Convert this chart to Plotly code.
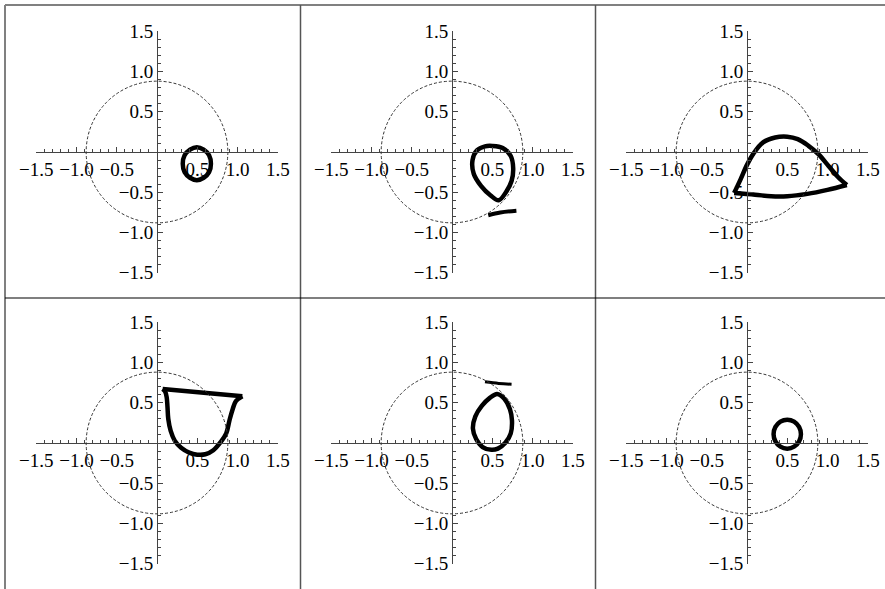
import numpy as np
import plotly.graph_objects as go

W, H = 885, 589

# Tick marks and their labels (shared by every panel)
tick_vals = [-1.5, -1.0, -0.5, 0.5, 1.0, 1.5]
tick_text = ["\u22121.5", "\u22121.0", "\u22120.5", "0.5", "1.0", "1.5"]
ref_radius = 0.88

# Panel 1: small closed loop below the axis
p1_x = [0.67, 0.647, 0.58, 0.495, 0.41, 0.343, 0.32, 0.343, 0.41, 0.495, 0.58, 0.647, 0.67]
p1_y = [-0.145, -0.04, 0.03, 0.06, 0.03, -0.04, -0.145, -0.25, -0.32, -0.35, -0.32, -0.25, -0.145]

# Panel 2: egg-shaped loop plus a detached stroke
p2_x = [0.50, 0.63, 0.73, 0.76, 0.74, 0.67, 0.58, 0.48, 0.36, 0.27, 0.255, 0.31, 0.41, 0.50]
p2_y = [0.075, 0.05, -0.05, -0.20, -0.36, -0.50, -0.60, -0.54, -0.42, -0.27, -0.10, 0.02, 0.07, 0.075]
p2_sx = [0.45, 0.60, 0.80]
p2_sy = [-0.785, -0.752, -0.730]

# Panel 3: arched upper branch and a nearly flat lower branch
p3_top_x = [-0.16, -0.08, 0.00, 0.08, 0.20, 0.35, 0.50, 0.63, 0.76, 0.89, 1.01, 1.13, 1.24]
p3_top_y = [-0.51, -0.34, -0.16, -0.02, 0.12, 0.18, 0.19, 0.16, 0.08, -0.03, -0.17, -0.31, -0.41]
p3_bot_x = [1.24, 1.00, 0.75, 0.50, 0.30, 0.10, -0.16]
p3_bot_y = [-0.41, -0.47, -0.52, -0.55, -0.55, -0.53, -0.51]

# Panel 4: cup shape with a straight top edge
p4_top_x = [0.07, 1.06]
p4_top_y = [0.67, 0.58]
p4_cup_x = [1.06, 0.98, 0.94, 0.90, 0.86, 0.79, 0.70, 0.60, 0.50, 0.40, 0.30, 0.22, 0.17, 0.14, 0.13, 0.12, 0.10, 0.07]
p4_cup_y = [0.58, 0.52, 0.42, 0.28, 0.12, 0.01, -0.09, -0.14, -0.145, -0.12, -0.06, 0.03, 0.15, 0.30, 0.45, 0.57, 0.64, 0.67]

# Panel 5: egg-shaped loop above the axis plus a detached stroke
p5_x = [0.56, 0.65, 0.72, 0.745, 0.73, 0.66, 0.57, 0.49, 0.38, 0.30, 0.26, 0.29, 0.37, 0.47, 0.56]
p5_y = [0.61, 0.55, 0.42, 0.28, 0.12, 0.00, -0.07, -0.085, -0.05, 0.05, 0.18, 0.33, 0.46, 0.56, 0.61]
p5_sx = [0.41, 0.58, 0.74]
p5_sy = [0.760, 0.740, 0.730]

# Panel 6: small closed loop above the axis
p6_x = [0.67, 0.647, 0.585, 0.50, 0.415, 0.353, 0.33, 0.353, 0.415, 0.50, 0.585, 0.647, 0.67]
p6_y = [0.11, 0.20, 0.266, 0.29, 0.266, 0.20, 0.11, 0.02, -0.046, -0.07, -0.046, 0.02, 0.11]

# (x, y, line width) for each curve in each panel
panels = [
    [(p1_x, p1_y, 4.5)],
    [(p2_x, p2_y, 4.5), (p2_sx, p2_sy, 4)],
    [(p3_top_x, p3_top_y, 4.5), (p3_bot_x, p3_bot_y, 4.5)],
    [(p4_top_x, p4_top_y, 4.5), (p4_cup_x, p4_cup_y, 4.5)],
    [(p5_x, p5_y, 4.5), (p5_sx, p5_sy, 3)],
    [(p6_x, p6_y, 4.5)],
]

# Pixel position of each panel's origin and pixels per unit
col_origin = [157, 452, 747]
row_origin = [152, 443]
ppu = 80.5
half = 1.5 * ppu

minor_vals = [round(v, 1) for v in np.arange(-1.5, 1.51, 0.1)
              if abs(round(v, 1) * 2 - round(round(v, 1) * 2)) > 1e-9]

fig = go.Figure()
layout = dict(width=W, height=H, margin=dict(l=0, r=0, t=0, b=0, autoexpand=False),
              paper_bgcolor="white", plot_bgcolor="rgba(0,0,0,0)",
              showlegend=False, shapes=[])

axis_font = dict(family="Liberation Serif, Times New Roman, serif", size=19, color="black")

for i, segs in enumerate(panels):
    r, c = divmod(i, 3)
    ox, oy = col_origin[c], row_origin[r]
    suffix = "" if i == 0 else str(i + 1)
    xa, ya = "x" + suffix, "y" + suffix
    common = dict(range=[-1.5, 1.5], showgrid=False, zeroline=False, showline=True,
                  linecolor="#444", linewidth=1, ticks="inside", ticklen=5,
                  tickcolor="#444", tickwidth=1, tickmode="array",
                  tickvals=tick_vals, ticktext=tick_text, tickfont=axis_font,
                  minor=dict(tickmode="array", tickvals=minor_vals, ticks="inside",
                             ticklen=3, tickcolor="#444", tickwidth=1),
                  automargin=False, fixedrange=True)
    layout["xaxis" + suffix] = dict(common, domain=[(ox - half) / W, (ox + half) / W],
                                    anchor="free", position=1 - oy / H)
    layout["yaxis" + suffix] = dict(common, domain=[1 - (oy + half) / H, 1 - (oy - half) / H],
                                    anchor="free", position=ox / W)
    layout["shapes"].append(dict(type="circle", xref=xa, yref=ya,
                                 x0=-ref_radius, x1=ref_radius, y0=-ref_radius, y1=ref_radius,
                                 line=dict(color="#333", width=1, dash="3px,2px")))
    for sx, sy, lw in segs:
        fig.add_trace(go.Scatter(x=sx, y=sy, xaxis=xa, yaxis=ya, mode="lines",
                                 line=dict(color="black", width=lw, shape="spline", smoothing=1.0),
                                 hoverinfo="skip"))

# Frame lines separating the panels
frame = [
    (5, 5, W, 5, "#808080", 2),
    (5, 5, 5, H, "#808080", 2),
    (300.5, 5, 300.5, H, "#555", 1.5),
    (595.5, 5, 595.5, H, "#555", 1.5),
    (5, 298, W, 298, "black", 1.2),
]
for x0, y0, x1, y1, col, w in frame:
    layout["shapes"].append(dict(type="line", xref="paper", yref="paper",
                                 x0=x0 / W, x1=x1 / W, y0=1 - y0 / H, y1=1 - y1 / H,
                                 line=dict(color=col, width=w)))

fig.update_layout(**layout)
fig.write_html("out.html")
